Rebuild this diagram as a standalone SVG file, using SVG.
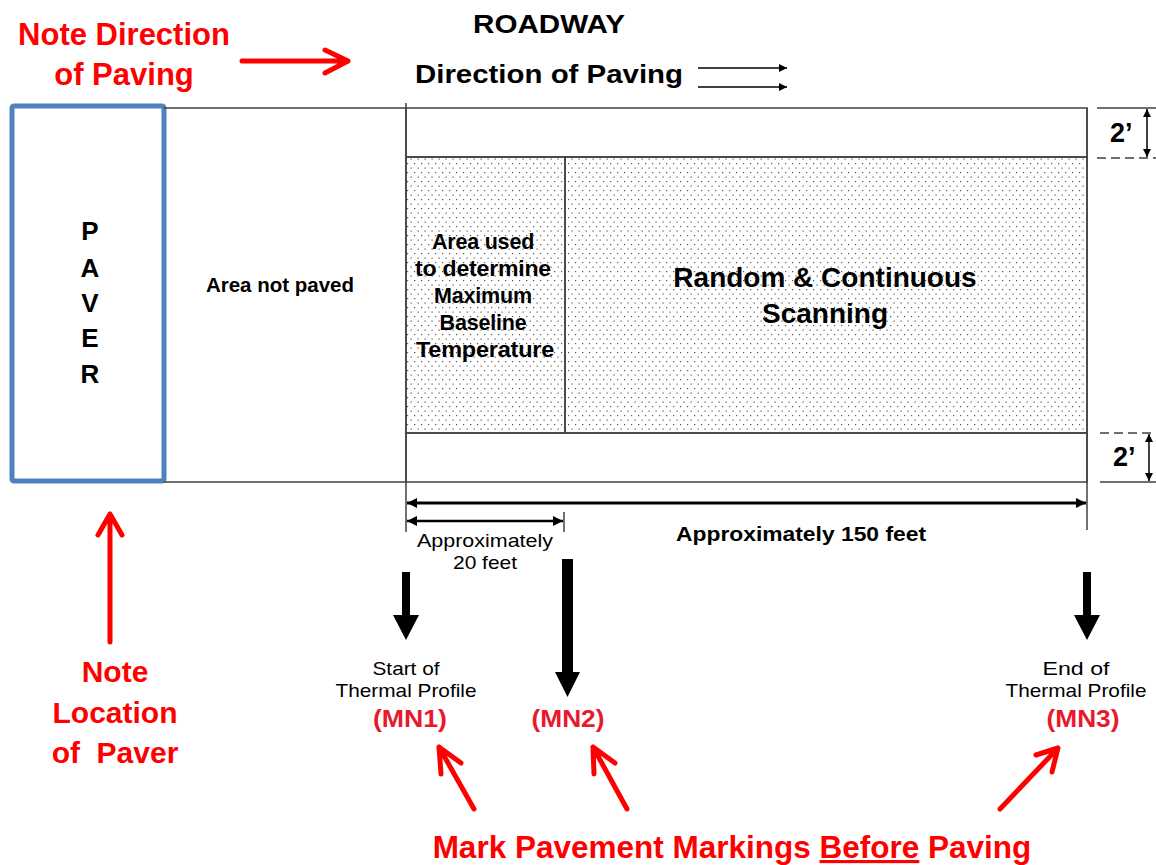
<svg xmlns="http://www.w3.org/2000/svg" width="1156" height="865" viewBox="0 0 1156 865">
<defs>
<style>
.t{font-family:"Liberation Sans",Arial,sans-serif;fill:#000}
.b{font-weight:bold}
.red{font-family:"Liberation Sans",Arial,sans-serif;font-weight:bold;fill:#FF0000}
.mn{font-family:"Liberation Sans",Arial,sans-serif;font-weight:bold;fill:#E8192C}
.ln{stroke:#404040;stroke-width:1.5;fill:none}
.dash{stroke:#404040;stroke-width:1.5;stroke-dasharray:9 5;fill:none}
.ra{stroke:#FF0000;stroke-width:5;fill:none;stroke-linecap:round;stroke-linejoin:round}
.dim{stroke:#000;fill:none}
</style>
<pattern id="dots" width="7" height="9" patternUnits="userSpaceOnUse">
<rect x="1" y="1" width="1.2" height="1.2" fill="#555"/>
<rect x="4.5" y="5.5" width="1.2" height="1.2" fill="#555"/>
</pattern>
<marker id="ah" viewBox="0 0 10 10" refX="10" refY="5" markerWidth="12" markerHeight="10" markerUnits="userSpaceOnUse" orient="auto-start-reverse">
<path d="M0,0 L10,5 L0,10 Z" fill="#000"/>
</marker>
<marker id="ahs" viewBox="0 0 10 10" refX="10" refY="5" markerWidth="10" markerHeight="8" markerUnits="userSpaceOnUse" orient="auto-start-reverse">
<path d="M0,0 L10,5 L0,10 Z" fill="#000"/>
</marker>
</defs>

<!-- Notes -->
<g id="note-direction">
<text class="red" x="124" y="45" font-size="31" text-anchor="middle">Note Direction</text>
<text class="red" x="124" y="85" font-size="31" text-anchor="middle">of Paving</text>
</g>
<g id="note-location">
<text class="red" x="115" y="682" font-size="30" text-anchor="middle">Note</text>
<text class="red" x="115" y="723" font-size="30" text-anchor="middle">Location</text>
<text class="red" x="115" y="763" font-size="30" text-anchor="middle">of&#160; Paver</text>
</g>
<g id="note-mark">
<text class="red" x="732" y="858" font-size="31.5" text-anchor="middle">Mark Pavement Markings <tspan text-decoration="underline">Before</tspan> Paving</text>
</g>

<!-- Roadway header -->
<g id="roadway-title">
<text class="t b" x="549" y="33" font-size="25" text-anchor="middle" textLength="152" lengthAdjust="spacingAndGlyphs">ROADWAY</text>
<text class="t b" x="415" y="83" font-size="25" textLength="268" lengthAdjust="spacingAndGlyphs">Direction of Paving</text>
</g>

<!-- Paver -->
<g id="paver">
<rect x="12" y="106" width="152" height="375" rx="2" fill="#fff" stroke="#4F81BD" stroke-width="5"/>
<g class="t b" font-size="26" text-anchor="middle">
<text x="90" y="240">P</text>
<text x="90" y="277">A</text>
<text x="90" y="312">V</text>
<text x="90" y="347">E</text>
<text x="90" y="383">R</text>
</g>
</g>

<!-- Area not paved -->
<g id="area-not-paved">
<line class="ln" x1="164" y1="108" x2="406" y2="108"/>
<line class="ln" x1="164" y1="482" x2="406" y2="482"/>
<text class="t b" x="280" y="292" font-size="20.5" text-anchor="middle">Area not paved</text>
</g>

<!-- Paved strip -->
<g id="top-strip">
<rect class="ln" x="406" y="108" width="681" height="49" fill="#fff"/>
</g>
<g id="baseline-area">
<rect x="406" y="157" width="159" height="276" fill="url(#dots)" stroke="#404040" stroke-width="1.5"/>
<g class="t b" font-size="21.5" text-anchor="middle" letter-spacing="-0.2">
<text x="483" y="249">Area used</text>
<text x="483" y="276" textLength="136" lengthAdjust="spacingAndGlyphs">to determine</text>
<text x="483" y="303">Maximum</text>
<text x="483" y="330">Baseline</text>
<text x="485" y="357" textLength="138" lengthAdjust="spacingAndGlyphs">Temperature</text>
</g>
</g>
<g id="scanning-area">
<rect x="565" y="157" width="522" height="276" fill="url(#dots)" stroke="#404040" stroke-width="1.5"/>
<text class="t b" x="825" y="287" font-size="28" text-anchor="middle">Random &amp; Continuous</text>
<text class="t b" x="825" y="323" font-size="28" text-anchor="middle">Scanning</text>
</g>
<g id="bottom-strip">
<rect class="ln" x="406" y="433" width="681" height="49" fill="#fff"/>
</g>

<!-- Dimension labels -->
<g id="dim-2ft-top">
<line class="ln" x1="1097" y1="108" x2="1156" y2="108"/>
<line class="dash" x1="1097" y1="158" x2="1156" y2="158"/>
<text class="t b" x="1110" y="142" font-size="27">2’</text>
</g>
<g id="dim-2ft-bottom">
<line class="dash" x1="1100" y1="433" x2="1156" y2="433"/>
<line class="ln" x1="1100" y1="482" x2="1156" y2="482"/>
<text class="t b" x="1113" y="466" font-size="27">2’</text>
</g>
<g id="label-20ft">
<text class="t" x="485" y="547" font-size="19" text-anchor="middle" textLength="136" lengthAdjust="spacingAndGlyphs">Approximately</text>
<text class="t" x="485" y="569" font-size="19" text-anchor="middle" textLength="64" lengthAdjust="spacingAndGlyphs">20 feet</text>
</g>
<g id="label-150ft">
<text class="t b" x="801" y="541" font-size="20.5" text-anchor="middle" textLength="250" lengthAdjust="spacingAndGlyphs">Approximately 150 feet</text>
</g>

<!-- Markers -->
<g id="mn1">
<text class="t" x="406" y="675" font-size="18.5" text-anchor="middle" textLength="67" lengthAdjust="spacingAndGlyphs">Start of</text>
<text class="t" x="406" y="697" font-size="18.5" text-anchor="middle" textLength="141" lengthAdjust="spacingAndGlyphs">Thermal Profile</text>
<text class="mn" x="410" y="727" font-size="23" text-anchor="middle" textLength="74" lengthAdjust="spacingAndGlyphs">(MN1)</text>
</g>
<g id="mn2">
<text class="mn" x="568" y="727" font-size="23" text-anchor="middle" textLength="73" lengthAdjust="spacingAndGlyphs">(MN2)</text>
</g>
<g id="mn3">
<text class="t" x="1076" y="675" font-size="18.5" text-anchor="middle" textLength="67" lengthAdjust="spacingAndGlyphs">End of</text>
<text class="t" x="1076" y="697" font-size="18.5" text-anchor="middle" textLength="141" lengthAdjust="spacingAndGlyphs">Thermal Profile</text>
<text class="mn" x="1083" y="727" font-size="23" text-anchor="middle" textLength="73" lengthAdjust="spacingAndGlyphs">(MN3)</text>
</g>

<!-- Connectors -->
<g id="connectors">
<line class="ln" x1="406" y1="103" x2="406" y2="532"/>
<line class="ln" x1="1087" y1="108" x2="1087" y2="530"/>
<line class="ln" x1="564" y1="512" x2="564" y2="532" stroke-width="1"/>
<line class="dim" stroke-width="1.6" x1="698" y1="68" x2="787" y2="68" marker-end="url(#ahs)"/>
<line class="dim" stroke-width="1.6" x1="698" y1="87" x2="787" y2="87" marker-end="url(#ahs)"/>
<line class="dim" stroke-width="1.5" x1="1147" y1="109" x2="1147" y2="157" marker-start="url(#ahs)" marker-end="url(#ahs)"/>
<line class="dim" stroke-width="1.5" x1="1149" y1="434" x2="1149" y2="481" marker-start="url(#ahs)" marker-end="url(#ahs)"/>
<line class="dim" stroke-width="3" x1="407" y1="503" x2="1086" y2="503" marker-start="url(#ah)" marker-end="url(#ah)"/>
<line class="dim" stroke-width="2.5" x1="407" y1="521" x2="563" y2="521" marker-start="url(#ah)" marker-end="url(#ah)"/>
<polygon points="402,572 410,572 410,615 419,615 406,640 393,615 402,615" fill="#000"/>
<polygon points="562,559 573,559 573,672 580,672 567.5,697 555,672 562,672" fill="#000"/>
<polygon points="1083,572 1091,572 1091,615 1100,615 1087,640 1074,615 1083,615" fill="#000"/>
<path class="ra" d="M242,61 L348,61 M325,50 L348,61 L325,73"/>
<path class="ra" d="M110,642 L110,514 M98,535 L110,514 L122,535"/>
<path class="ra" d="M474,809 L439,747 M441,774 L439,747 L461,763"/>
<path class="ra" d="M627,809 L593,747 M594,774 L593,747 L615,763"/>
<path class="ra" d="M1000,809 L1058,748 M1036,755 L1058,748 L1052,772"/>
</g>
</svg>
